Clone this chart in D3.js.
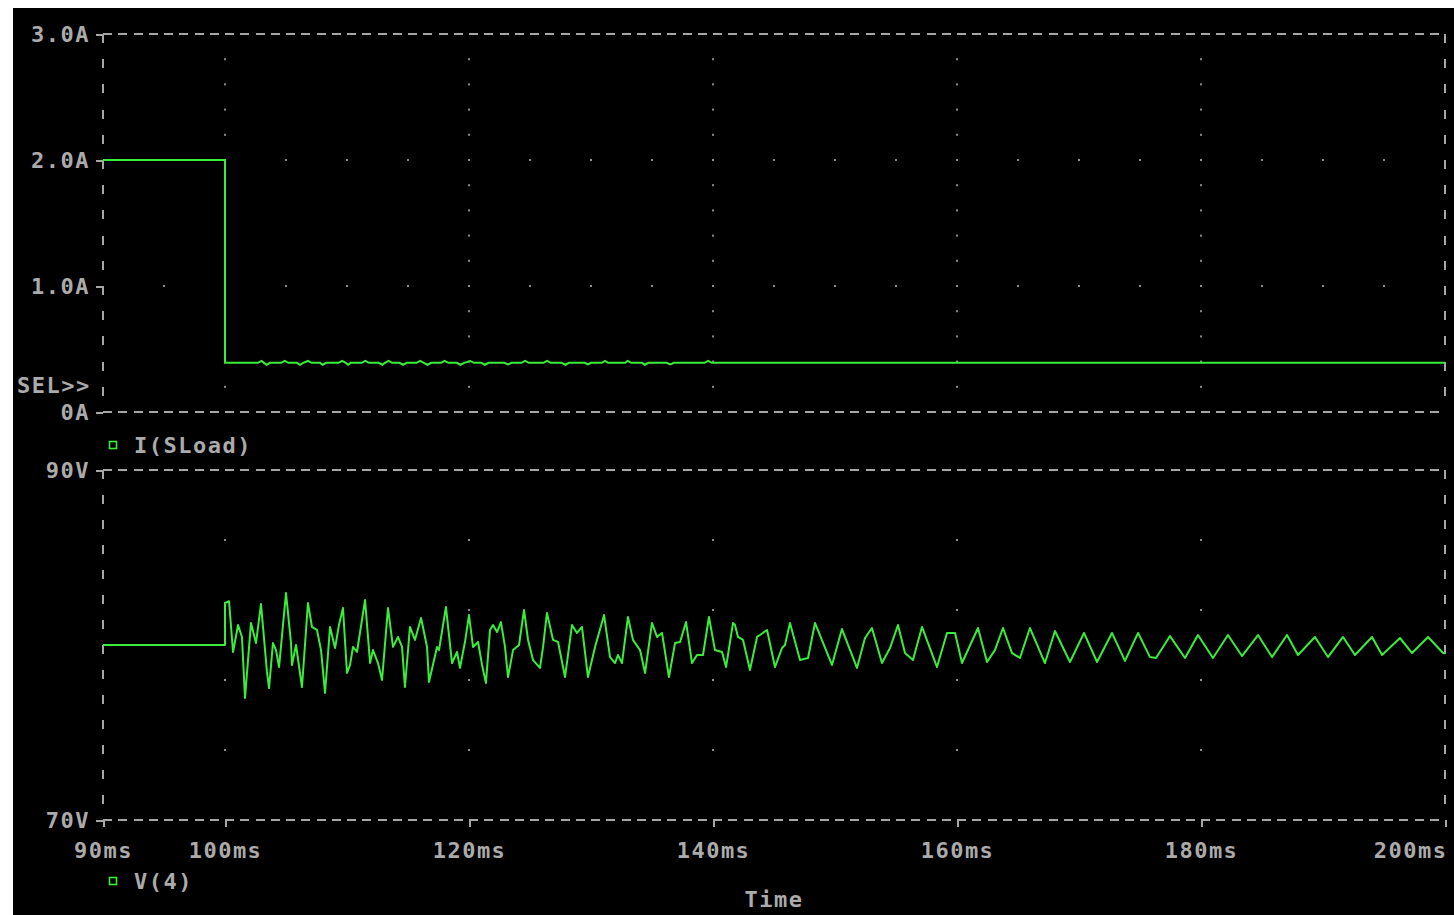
<!DOCTYPE html>
<html>
<head>
<meta charset="utf-8">
<script src="https://cdn.jsdelivr.net/npm/d3@7"></script>
<style>
  html, body { margin: 0; padding: 0; background: #ffffff; }
  svg { display: block; }
  text { font-family: "DejaVu Sans Mono", "Liberation Mono", monospace; font-weight: bold; font-size: 22px; fill: #ababab; letter-spacing: 1.5px; }
</style>
</head>
<body>
<svg id="chart" width="1454" height="915"></svg>
<script>
// Axis ticks and labels
const timeTicks = [90, 100, 120, 140, 160, 180, 200];
const timeTickLabels = ["90ms", "100ms", "120ms", "140ms", "160ms", "180ms", "200ms"];
const currentTicks = [0, 1, 2, 3];
const currentTickLabels = ["0A", "1.0A", "2.0A", "3.0A"];
const voltageTicks = [70, 90];
const voltageTickLabels = ["70V", "90V"];

// I(SLoad): time (ms) and current (A)
const currentTime = [90, 100, 100,
  102.7, 103.0, 103.2, 103.4, 103.7, 104.6, 104.9, 105.2,
  105.9, 106.15, 106.4, 106.8, 107.1, 107.8, 108.0, 108.3,
  109.3, 109.6, 109.9, 110.1, 110.3, 111.2, 111.5, 111.8,
  112.6, 112.9, 113.1, 113.4, 113.7, 114.3, 114.6, 114.9,
  115.7, 116.0, 116.3, 116.6, 116.9, 117.7, 118.0, 118.3,
  119.0, 119.3, 119.6, 120.1, 120.4, 121.0, 121.3, 121.6,
  122.9, 123.2, 123.5, 124.3, 124.6, 124.9, 126.1, 126.4, 126.7,
  127.6, 127.9, 128.2, 129.5, 129.75, 130.0, 130.9, 131.15, 131.4,
  132.8, 133.0, 133.3, 134.2, 134.4, 134.7, 136.2, 136.5, 136.8,
  139.3, 139.6, 139.9, 200];
const currentValue = [2.0, 2.0, 0.39,
  0.39, 0.405, 0.39, 0.375, 0.39, 0.39, 0.405, 0.39,
  0.39, 0.375, 0.39, 0.405, 0.39, 0.39, 0.375, 0.39,
  0.39, 0.405, 0.39, 0.375, 0.39, 0.39, 0.405, 0.39,
  0.39, 0.375, 0.39, 0.405, 0.39, 0.39, 0.375, 0.39,
  0.39, 0.405, 0.39, 0.375, 0.39, 0.39, 0.405, 0.39,
  0.39, 0.375, 0.39, 0.405, 0.39, 0.39, 0.375, 0.39,
  0.39, 0.378, 0.39, 0.39, 0.405, 0.39, 0.39, 0.405, 0.39,
  0.39, 0.375, 0.39, 0.39, 0.378, 0.39, 0.39, 0.405, 0.39,
  0.39, 0.405, 0.39, 0.39, 0.375, 0.39, 0.39, 0.378, 0.39,
  0.39, 0.405, 0.39, 0.39];

// V(4): time (ms) and voltage (V)
const voltageTime = [90, 100, 100, 100.33, 100.66, 101.07, 101.39, 101.64, 102.13, 102.54,
  102.95, 103.44, 103.61, 103.93, 104.18, 104.43, 105.0, 105.41, 105.49, 105.82,
  106.31, 106.8, 107.13, 107.54, 107.87, 108.2, 108.61, 109.02, 109.34, 109.67,
  110.0, 110.25, 110.49, 110.82, 111.48, 111.89, 112.13, 112.54, 112.87, 113.36,
  113.77, 114.18, 114.51, 114.75, 115.16, 115.57, 116.07, 116.56, 116.72, 117.38,
  117.54, 118.11, 118.61, 119.02, 119.26, 119.67, 120.0, 120.33, 120.74, 121.07,
  121.39, 121.72, 121.97, 122.3, 122.62, 122.95, 123.2, 123.61, 124.1, 124.51,
  124.84, 125.25, 125.82, 126.07, 126.39, 126.89, 127.3, 127.87, 128.44, 128.85,
  129.26, 129.75, 130.33, 131.07, 131.56, 131.97, 132.21, 132.54, 133.03, 133.44,
  134.02, 134.43, 135.0, 135.41, 135.82, 136.39, 136.89, 137.3, 137.79, 138.28,
  138.69, 139.18, 139.67, 140.16, 140.74, 141.07, 141.64, 141.8, 142.05, 142.46,
  143.03, 143.61, 143.85, 144.43, 145.08, 145.66, 145.9, 146.31, 147.13, 147.79,
  148.36, 149.75, 150.57, 151.8, 152.46, 153.03, 153.85, 154.51, 155.16, 155.74,
  156.39, 157.13, 158.36, 159.18, 159.84, 160.41, 161.72, 162.46, 163.11, 163.77,
  164.51, 165.16, 165.98, 167.21, 168.03, 169.26, 170.41, 171.48, 172.7, 173.77,
  174.84, 175.82, 176.31, 177.46, 178.69, 179.75, 180.98, 182.21, 183.36, 184.67,
  185.82, 187.05, 187.95, 189.34, 190.41, 191.64, 192.62, 194.02, 194.84, 196.31,
  197.3, 198.61, 199.84, 200.0];
const voltageValue = [80.0, 80.0, 82.4, 82.5, 79.6, 81.14, 80.46, 76.97, 81.26, 80.11,
  82.34, 78.46, 77.54, 80.11, 79.71, 78.74, 82.97, 80.11, 78.86, 80.0,
  77.6, 82.4, 81.03, 80.86, 79.71, 77.26, 81.03, 79.83, 81.14, 82.11,
  78.4, 78.86, 79.89, 79.6, 82.57, 78.97, 79.71, 78.97, 78.0, 82.11,
  79.89, 80.46, 79.89, 77.6, 81.03, 80.29, 81.54, 79.89, 77.89, 79.89,
  79.71, 82.17, 78.97, 79.6, 78.69, 80.17, 81.71, 79.89, 80.17, 78.86,
  77.83, 80.86, 81.14, 80.74, 81.31, 79.89, 78.17, 79.71, 80.0, 82.0,
  80.29, 79.14, 78.69, 79.89, 81.83, 80.29, 80.17, 78.17, 81.14, 80.69,
  81.03, 78.17, 79.89, 81.71, 79.31, 78.97, 79.43, 78.97, 81.6, 80.29,
  79.71, 78.4, 81.26, 80.46, 80.69, 78.17, 80.11, 80.17, 81.31, 78.97,
  79.43, 79.43, 81.6, 79.71, 79.6, 78.74, 81.26, 81.14, 80.46, 80.29,
  78.57, 80.46, 80.57, 80.86, 78.74, 79.83, 80.0, 81.26, 79.14, 79.26,
  81.26, 78.86, 80.91, 78.69, 80.4, 80.97, 78.97, 79.83, 81.14, 79.54,
  79.14, 81.03, 78.74, 80.69, 80.69, 78.97, 80.97, 79.03, 79.71, 80.97,
  79.54, 79.26, 80.97, 78.97, 80.8, 79.03, 80.69, 79.03, 80.69, 79.09,
  80.69, 79.31, 79.26, 80.51, 79.26, 80.57, 79.26, 80.57, 79.37, 80.57,
  79.31, 80.57, 79.43, 80.46, 79.31, 80.46, 79.43, 80.46, 79.43, 80.4,
  79.54, 80.46, 79.54, 79.54];

const traceColor = "#3aed3a";
const frameColor = "#a6a6a6";
const dotColor = "#8a8a8a";

const svg = d3.select("#chart");

// screen background
svg.append("rect").attr("x", 13).attr("y", 8).attr("width", 1454 - 13).attr("height", 915 - 8).attr("fill", "#000");

const x = d3.scaleLinear().domain([90, 200]).range([103, 1445]);
const yI = d3.scaleLinear().domain([0, 3]).range([412, 34]);
const yV = d3.scaleLinear().domain([70, 90]).range([820, 470]);

const gridTimes = timeTicks.slice(1, -1);

// dotted grid for a plot: dots along vertical grid lines and along horizontal grid lines
function drawGrid(yScale, minorY, hLines) {
  const g = svg.append("g").attr("fill", dotColor);
  gridTimes.forEach(t => {
    minorY.forEach(v => {
      g.append("rect").attr("x", x(t) - 1).attr("y", yScale(v) - 1).attr("width", 2).attr("height", 2);
    });
  });
  hLines.forEach(v => {
    d3.range(95, 200, 5).forEach(t => {
      g.append("rect").attr("x", x(t) - 1).attr("y", yScale(v) - 1).attr("width", 2).attr("height", 2);
    });
  });
}
drawGrid(yI, d3.range(1, 15).map(k => k * 0.2), [1, 2]);
drawGrid(yV, [74, 78, 82, 86], []);

// dashed frame around a plot
function drawFrame(yScale, lo, hi, vDash) {
  const g = svg.append("g").attr("stroke", frameColor).attr("stroke-width", 2).attr("fill", "none")
    .attr("shape-rendering", "crispEdges");
  [hi, lo].forEach(v => {
    g.append("line").attr("x1", x(90)).attr("x2", x(200)).attr("y1", yScale(v)).attr("y2", yScale(v))
      .attr("stroke-dasharray", "9,6.25");
  });
  [90, 200].forEach(t => {
    g.append("line").attr("x1", x(t)).attr("x2", x(t)).attr("y1", yScale(hi)).attr("y2", yScale(lo))
      .attr("stroke-dasharray", vDash);
  });
}
drawFrame(yI, 0, 3, "9,16.2");
drawFrame(yV, 70, 90, "9,16");

// axis styling shared by all three axes
function styleAxis(g) {
  g.select(".domain").remove();
  g.selectAll(".tick line").attr("stroke", frameColor).attr("stroke-width", 2).attr("shape-rendering", "crispEdges");
  g.selectAll(".tick text").attr("fill", "#ababab").attr("font-family", null).attr("font-size", null);
}
svg.append("g").attr("transform", `translate(${x(90)},0)`)
  .call(d3.axisLeft(yI).tickValues(currentTicks).tickFormat((d, i) => currentTickLabels[i]).tickSize(7).tickPadding(6))
  .call(styleAxis);
svg.append("g").attr("transform", `translate(${x(90)},0)`)
  .call(d3.axisLeft(yV).tickValues(voltageTicks).tickFormat((d, i) => voltageTickLabels[i]).tickSize(7).tickPadding(6))
  .call(styleAxis);

// x axis under the voltage plot
const xAxis = svg.append("g").attr("transform", `translate(0,${yV(70)})`)
  .call(d3.axisBottom(x).tickValues(timeTicks).tickFormat((d, i) => timeTickLabels[i]).tickSize(7).tickPadding(15))
  .call(styleAxis);
xAxis.selectAll(".tick text").filter(d => d === 200).attr("text-anchor", "end").attr("dx", "2px");

// traces
const currentLine = d3.line().x(d => x(d[0])).y(d => yI(d[1]));
svg.append("path").datum(d3.zip(currentTime, currentValue))
  .attr("d", currentLine).attr("fill", "none").attr("stroke", traceColor).attr("stroke-width", 2)
  .attr("stroke-linejoin", "miter");

const voltageLine = d3.line().x(d => x(d[0])).y(d => yV(d[1]));
svg.append("path").datum(d3.zip(voltageTime, voltageValue))
  .attr("d", voltageLine).attr("fill", "none").attr("stroke", traceColor).attr("stroke-width", 2)
  .attr("stroke-linejoin", "round");

// selection marker and legends
svg.append("text").attr("x", 17).attr("y", 385).attr("dy", "0.35em").text("SEL>>");

function legend(yc, label) {
  svg.append("rect").attr("x", 109.5).attr("y", yc - 3.5).attr("width", 7).attr("height", 7)
    .attr("fill", "none").attr("stroke", traceColor).attr("stroke-width", 1.6);
  svg.append("text").attr("x", 134).attr("y", yc).attr("dy", "0.35em").text(label);
}
legend(445, "I(SLoad)");
legend(881, "V(4)");

svg.append("text").attr("x", (x(90) + x(200)) / 2).attr("y", 899).attr("dy", "0.35em")
  .attr("text-anchor", "middle").text("Time");
</script>
</body>
</html>
